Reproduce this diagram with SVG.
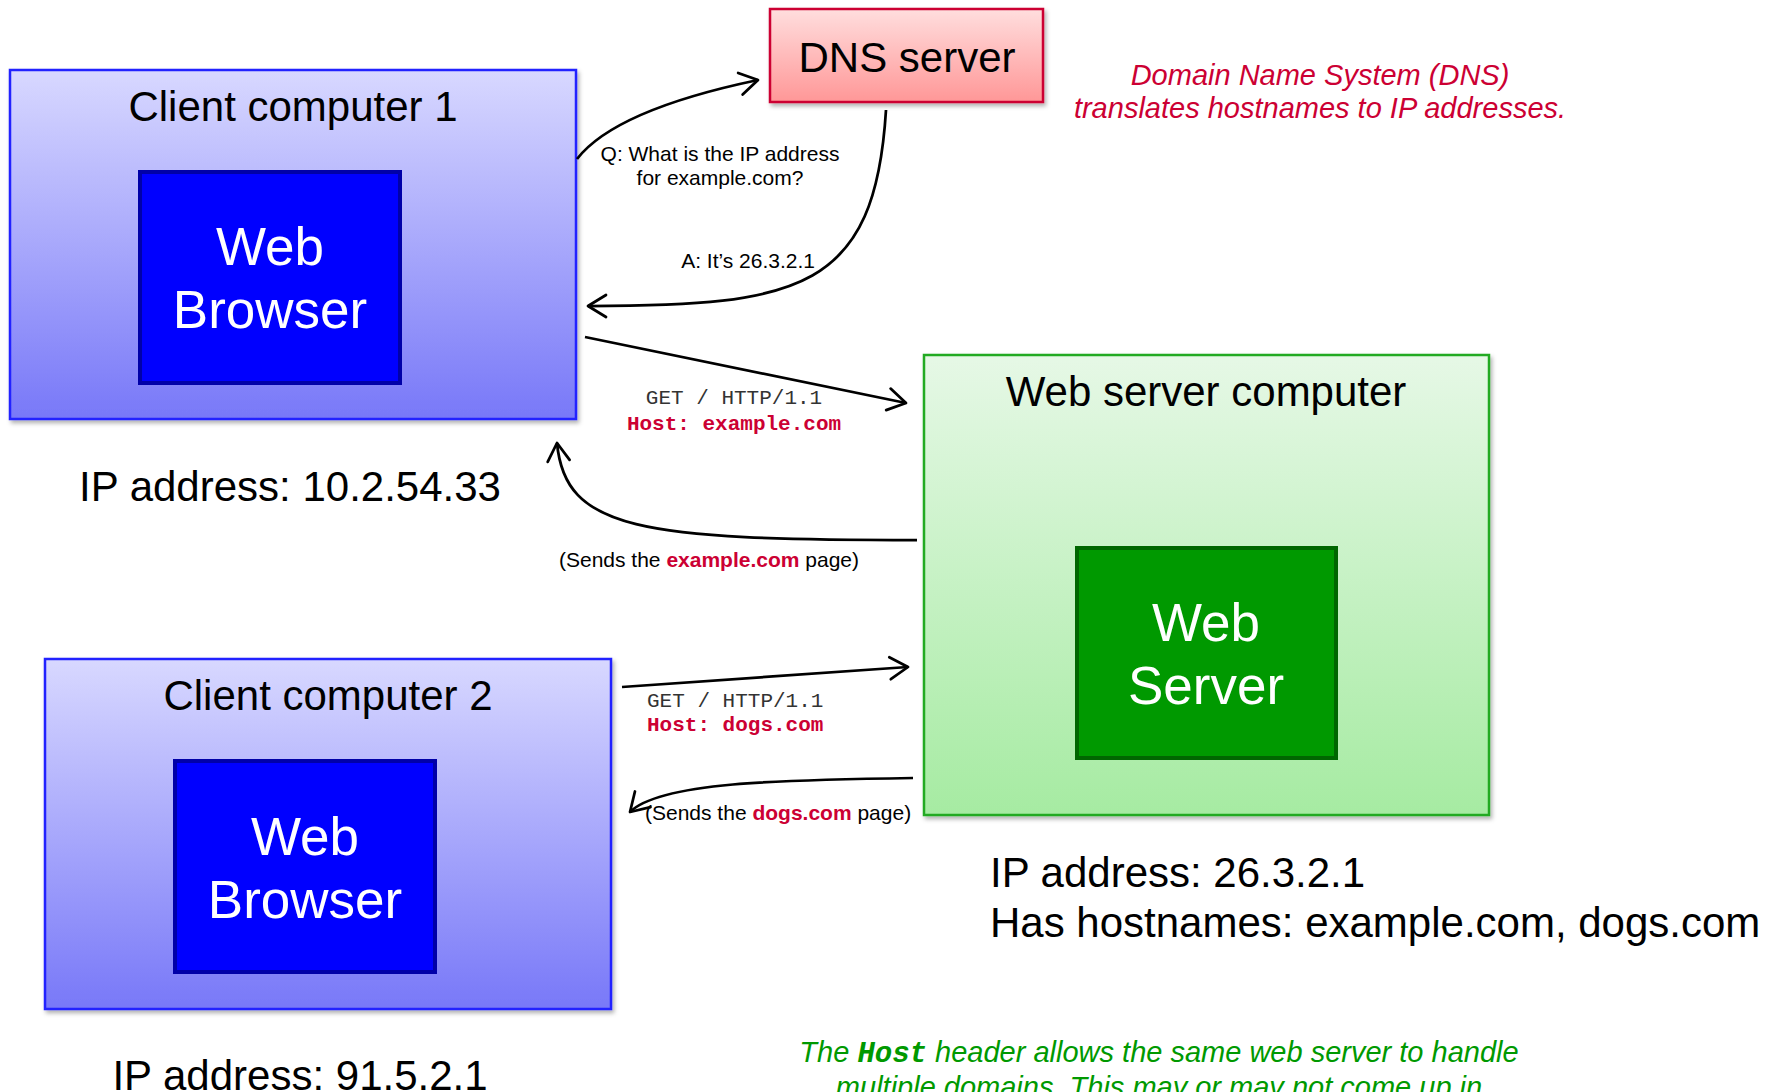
<svg xmlns="http://www.w3.org/2000/svg" width="1783" height="1092" viewBox="0 0 1783 1092">
  <defs>
    <linearGradient id="gClient" x1="0" y1="0" x2="0" y2="1">
      <stop offset="0" stop-color="#D8D8FF"/>
      <stop offset="1" stop-color="#7878F8"/>
    </linearGradient>
    <linearGradient id="gDns" x1="0" y1="0" x2="0" y2="1">
      <stop offset="0" stop-color="#FFDEDE"/>
      <stop offset="1" stop-color="#FF9797"/>
    </linearGradient>
    <linearGradient id="gServer" x1="0" y1="0" x2="0" y2="1">
      <stop offset="0" stop-color="#E6F8E6"/>
      <stop offset="1" stop-color="#A6EBA2"/>
    </linearGradient>
    <filter id="shadow" x="-5%" y="-5%" width="112%" height="115%">
      <feDropShadow dx="2" dy="3" stdDeviation="2" flood-color="#000" flood-opacity="0.3"/>
    </filter>
    <marker id="arrow" viewBox="-22 -14 26 28" markerWidth="26" markerHeight="28" refX="0" refY="0" orient="auto" markerUnits="userSpaceOnUse">
      <path d="M-18,-11 L0,0 L-18,11" fill="none" stroke="#000" stroke-width="2.75" stroke-linecap="round" stroke-linejoin="round"/>
    </marker>
    <style>
      .sans { font-family: "Liberation Sans", Arial, sans-serif; }
      .mono { font-family: "Liberation Mono", "Courier New", monospace; }
      .title { font-size: 42px; fill: #000; text-anchor: middle; }
      .inner { font-size: 53px; fill: #fff; text-anchor: middle; }
      .big { font-size: 42px; fill: #000; }
      .small { font-size: 21px; fill: #000; }
      .code { font-size: 21px; }
      .grey { fill: #333; }
      .red { fill: #CC0033; }
      .bold { font-weight: bold; }
      .note { font-size: 29px; font-style: italic; text-anchor: middle; }
      .client { fill: url(#gClient); stroke: #2020FF; stroke-width: 2.5; }
      .browser { fill: #0000FF; stroke: #0000A8; stroke-width: 4; }
      .dns { fill: url(#gDns); stroke: #CC0033; stroke-width: 2.5; }
      .server { fill: url(#gServer); stroke: #22AA22; stroke-width: 2.5; }
      .webserver { fill: #009900; stroke: #006600; stroke-width: 4; }
      .conn { fill: none; stroke: #000; stroke-width: 2.75; marker-end: url(#arrow); }
    </style>
  </defs>

  <rect width="1783" height="1092" fill="#fff"/>

  <!-- Client computer 1 -->
  <g id="client1">
    <rect class="client" x="10" y="70" width="566" height="349" filter="url(#shadow)"/>
    <text class="sans title" x="293" y="121">Client computer 1</text>
    <rect class="browser" x="140" y="172" width="260" height="211"/>
    <text class="sans inner" x="270" y="265">Web</text>
    <text class="sans inner" x="270" y="328">Browser</text>
    <text class="sans big" x="290" y="501" text-anchor="middle">IP address: 10.2.54.33</text>
  </g>

  <!-- Client computer 2 -->
  <g id="client2">
    <rect class="client" x="45" y="659" width="566" height="350" filter="url(#shadow)"/>
    <text class="sans title" x="328" y="710">Client computer 2</text>
    <rect class="browser" x="175" y="761" width="260" height="211"/>
    <text class="sans inner" x="305" y="855">Web</text>
    <text class="sans inner" x="305" y="918">Browser</text>
    <text class="sans big" x="300" y="1090" text-anchor="middle">IP address: 91.5.2.1</text>
  </g>

  <!-- DNS server -->
  <g id="dns">
    <rect class="dns" x="770" y="9" width="273" height="93" filter="url(#shadow)"/>
    <text class="sans title" x="907" y="72">DNS server</text>
    <text class="sans note red" x="1320" y="85">Domain Name System (DNS)</text>
    <text class="sans note red" x="1320" y="118">translates hostnames to IP addresses.</text>
  </g>

  <!-- Web server computer -->
  <g id="webserver">
    <rect class="server" x="924" y="355" width="565" height="460" filter="url(#shadow)"/>
    <text class="sans title" x="1206" y="406">Web server computer</text>
    <rect class="webserver" x="1077" y="548" width="259" height="210"/>
    <text class="sans inner" x="1206" y="641">Web</text>
    <text class="sans inner" x="1206" y="704">Server</text>
    <text class="sans big" x="990" y="887">IP address: 26.3.2.1</text>
    <text class="sans big" x="990" y="937">Has hostnames: example.com, dogs.com</text>
  </g>

  <!-- Host header note -->
  <g id="host-note">
    <text class="sans note" x="1159" y="1062" fill="#009900">The <tspan class="mono bold">Host</tspan> header allows the same web server to handle</text>
    <text class="sans note" x="1159" y="1097" fill="#009900">multiple domains. This may or may not come up in</text>
  </g>

  <!-- Connectors -->
  <g id="connectors">
    <path class="conn" d="M577,159 Q615,110 758,80"/>
    <path class="conn" d="M886,110 C875,290 800,306 588,306"/>
    <path class="conn" d="M585,337 L906,403"/>
    <path class="conn" d="M917,540 C640,540 565,530 557,443"/>
    <path class="conn" d="M622,687 L908,667"/>
    <path class="conn" d="M913,778 C780,780 660,782 630,812"/>

    <text class="sans small" x="720" y="161" text-anchor="middle">Q: What is the IP address</text>
    <text class="sans small" x="720" y="185" text-anchor="middle">for example.com?</text>
    <text class="sans small" x="815" y="268" text-anchor="end">A: It’s 26.3.2.1</text>

    <text class="mono code grey" x="734" y="404" text-anchor="middle">GET / HTTP/1.1</text>
    <text class="mono code red bold" x="734" y="430" text-anchor="middle">Host: example.com</text>
    <text class="sans small" x="709" y="567" text-anchor="middle">(Sends the <tspan class="red bold">example.com</tspan> page)</text>

    <text class="mono code grey" x="647" y="707">GET / HTTP/1.1</text>
    <text class="mono code red bold" x="647" y="731">Host: dogs.com</text>
    <text class="sans small" x="645" y="820">(Sends the <tspan class="red bold">dogs.com</tspan> page)</text>
  </g>
</svg>
